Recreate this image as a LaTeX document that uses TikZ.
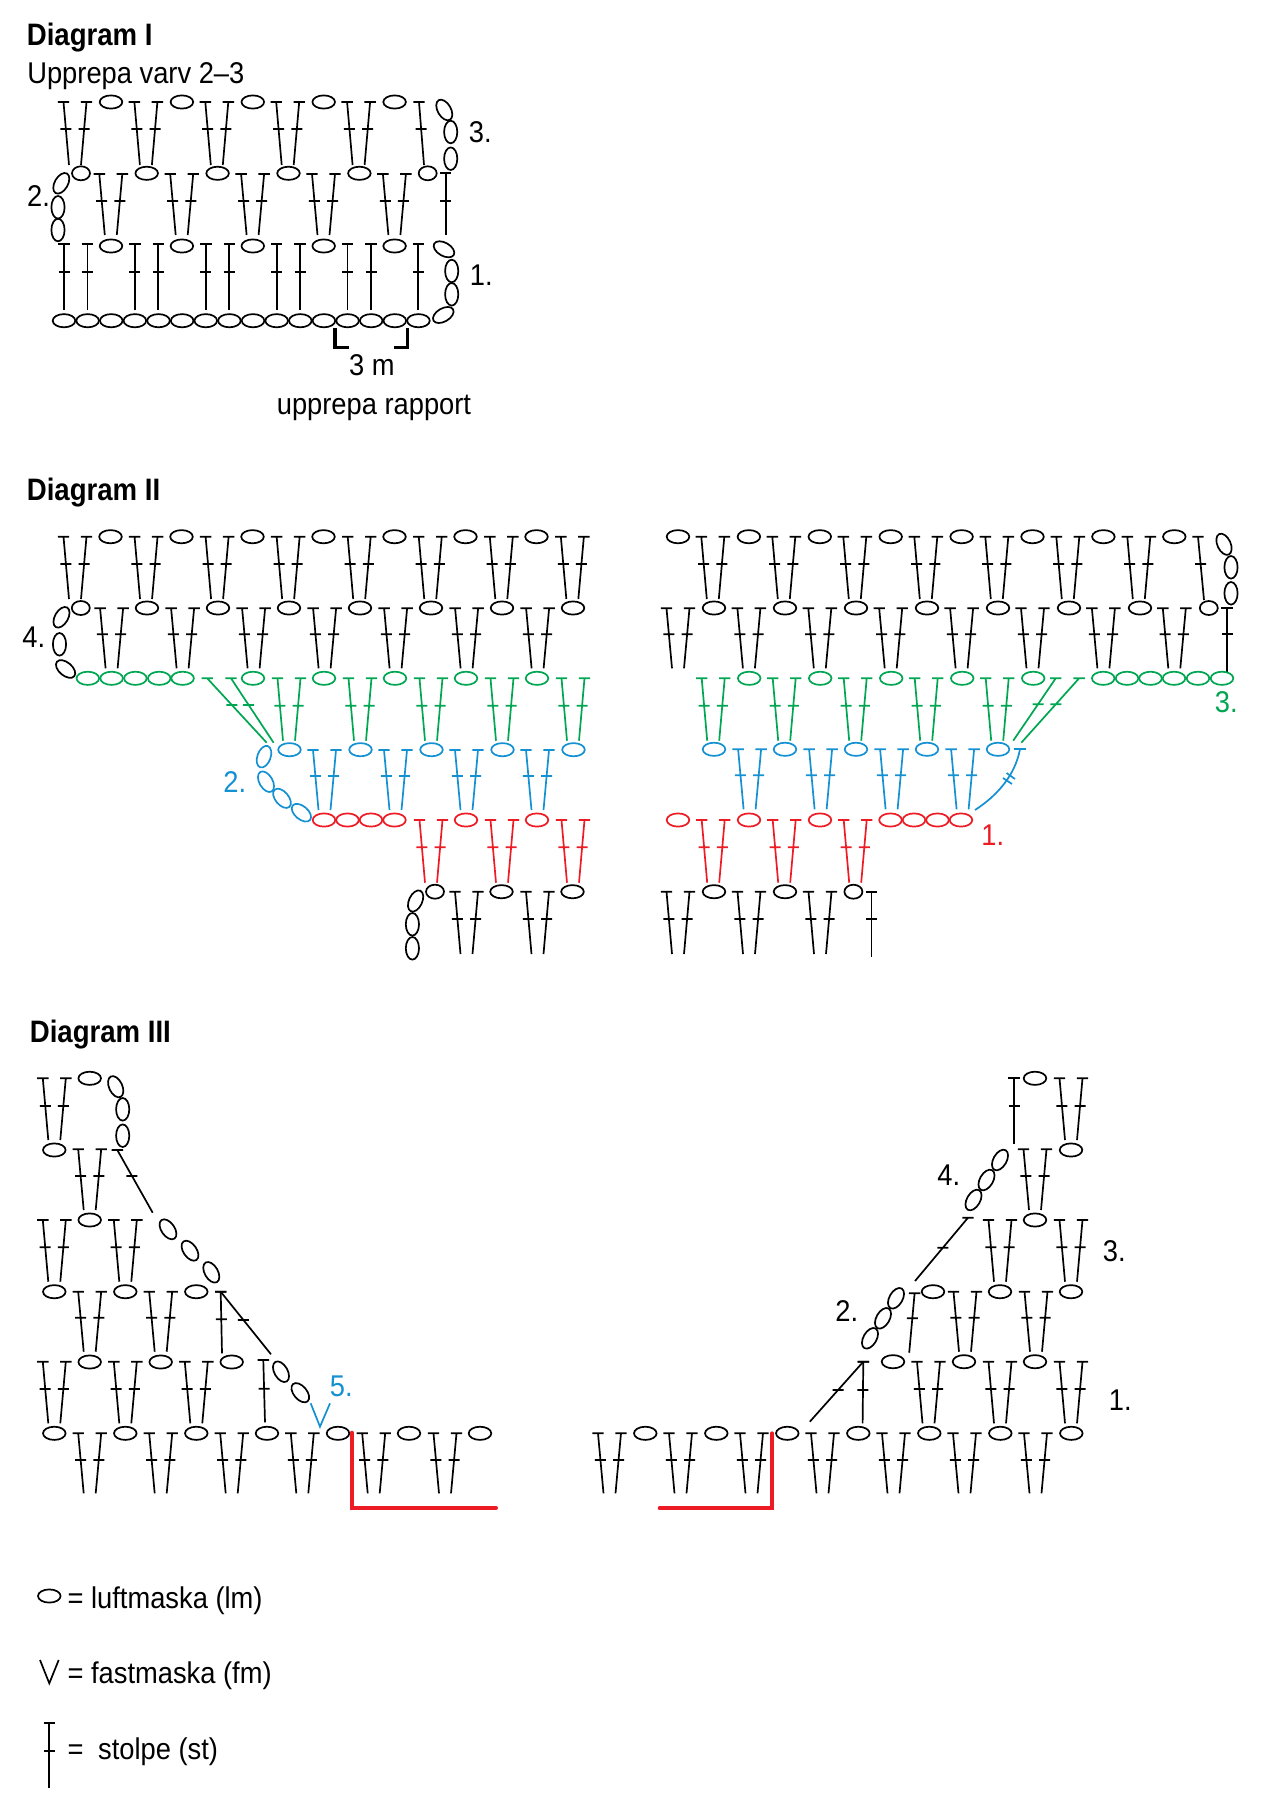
\documentclass[tikz,border=0pt]{standalone}
\usepackage{fontspec}
\setmainfont{Liberation Sans}[FakeStretch=0.91]
\newfontfamily\titlefont{Liberation Sans}[FakeStretch=0.89]
\usepackage{tikz}
\definecolor{StitchGreen}{RGB}{0,166,81}
\definecolor{StitchBlue}{RGB}{20,145,210}
\definecolor{StitchRed}{RGB}{237,28,36}
\newcommand{\stolpe}[5]{% top x, top y, foot x, foot y, bar y
  \pgfmathsetmacro{\barx}{#1+(#3-#1)*(#5-#2)/(#4-#2)}
  \draw (#1-5.7,#2) -- (#1+5.7,#2) (#1,#2) -- (#3,#4) (\barx-5.5,#5) -- (\barx+5.5,#5);
}
\newcommand{\stpair}[4]{% centre x, top y, foot y, bar y
  \pgfmathsetmacro{\pl}{#1-11.5}\pgfmathsetmacro{\pr}{#1+11.5}
  \pgfmathsetmacro{\fl}{#1-6}\pgfmathsetmacro{\fr}{#1+6}
  \stolpe{\pl}{#2}{\fl}{#3}{#4}\stolpe{\pr}{#2}{\fr}{#3}{#4}
}
\newcommand{\lm}[3]{\draw[rotate around={#3:(#1,#2)}] (#1,#2) ellipse [x radius=11.3, y radius=6.6];}
\newcommand{\lmsmall}[2]{\draw (#1,#2) ellipse [x radius=9, y radius=7];}

\begin{document}
\begin{tikzpicture}[
  x=1pt, y=-1pt, line width=1.7pt,
  title/.style={anchor=base west, inner sep=0pt, font=\fontsize{31}{34}\selectfont\titlefont\bfseries},
  lbl/.style={anchor=base west, inner sep=0pt, font=\fontsize{30}{33}\selectfont},
  lblmid/.style={anchor=base, inner sep=0pt, font=\fontsize{30}{33}\selectfont},
  bracket/.style={line width=3.4pt},
  redline/.style={line width=4pt, color=StitchRed, line cap=round, line join=miter}
]
\useasboundingbox (0,0) rectangle (1271,1815);

% Diagram I
\node[title] (titleA) at (26,45.5) {Diagram I};
\node[lbl] (subA) at (26.5,83.7) {Upprepa varv 2--3};
\foreach \i in {0,...,4} {
  \pgfmathsetmacro{\xa}{75+70.9*\i}
  \stpair{\xa}{102}{165}{129}
  \pgfmathsetmacro{\xb}{111+70.9*\i}
  \lm{\xb}{102}{0}
  \pgfmathsetmacro{\xc}{110.8+70.9*\i}
  \stpair{\xc}{174}{235}{201}
  \lm{\xb}{246}{0}
  \pgfmathsetmacro{\xe}{64+70.9*\i}
  \pgfmathsetmacro{\xf}{87.4+70.9*\i}
  \stolpe{\xe}{244.3}{\xe}{310}{271.7}
  \stolpe{\xf}{244.3}{\xf}{310}{271.7}
}
\foreach \i in {0,...,3} {
  \pgfmathsetmacro{\xd}{146.7+70.9*\i}
  \lm{\xd}{173.3}{0}
}
\stolpe{419}{102}{424}{165}{129}
\stolpe{445.7}{173.3}{445.7}{235}{201}
\stolpe{418.3}{244.3}{418.3}{310}{271.7}
\lmsmall{81}{173.3}
\lmsmall{427.7}{173.3}
\lm{444.3}{110}{-60}
\lm{450.7}{132}{90}
\lm{450.7}{158.7}{90}
\lm{61.3}{183.3}{60}
\lm{58}{207.3}{90}
\lm{58}{230}{90}
\lm{444}{249.3}{-30}
\lm{451.7}{271}{90}
\lm{451.7}{294.3}{90}
\lm{443.3}{315}{30}
% Foundation chain
\foreach \i in {0,...,15} {
  \pgfmathsetmacro{\xa}{64+23.63*\i}
  \lm{\xa}{320.7}{0}
}
\draw[bracket] (335,328) -- (335,347.5) -- (349,347.5);
\draw[bracket] (407.3,328) -- (407.3,347.5) -- (394,347.5);
\node[lbl] (numA2) at (26.3,206.7) {2.};
\node[lbl] (numA3) at (468,142.7) {3.};
\node[lbl] (numA1) at (469,285) {1.};
\node[lblmid] (countA) at (372,375.5) {3 m};
\node[lblmid] (rapport) at (374,414.2) {upprepa rapport};

% Diagram II, left part
\node[title] (titleB) at (26,500.5) {Diagram II};
\foreach \i in {0,...,7} {
  \pgfmathsetmacro{\xa}{75+71.05*\i}
  \stpair{\xa}{536.7}{599}{564}
}
\foreach \i in {0,...,6} {
  \pgfmathsetmacro{\xa}{110.5+71*\i}
  \lm{\xa}{536.7}{0}
  \pgfmathsetmacro{\xb}{147+71*\i}
  \lm{\xb}{608}{0}
  \pgfmathsetmacro{\xc}{111.6+71*\i}
  \stpair{\xc}{608.3}{668.3}{634.3}
}
\lmsmall{80.8}{608}
\lm{61.5}{617.3}{60}
\lm{59.5}{644.3}{90}
\lm{65.6}{669}{-40}
\node[lbl] (numB4) at (21.6,647.7) {4.};
\begin{scope}[color=StitchGreen]
  \foreach \xa in {87.8,111.6,135.4,159.2,182.6} {\lm{\xa}{678.3}{0}}
  \foreach \i in {0,...,4} {
    \pgfmathsetmacro{\xa}{253+71*\i}
    \lm{\xa}{678.3}{0}
    \pgfmathsetmacro{\xb}{289+71*\i}
    \stpair{\xb}{678.3}{740.7}{705.7}
  }
  \stolpe{207.2}{678.3}{266.7}{742.7}{705}
  \stolpe{231}{678.3}{273.6}{742.7}{705}
\end{scope}
\begin{scope}[color=StitchBlue]
  \foreach \i in {0,...,4} {
    \pgfmathsetmacro{\xa}{289.5+71*\i}
    \lm{\xa}{749.7}{0}
  }
  \foreach \i in {0,...,3} {
    \pgfmathsetmacro{\xa}{324.5+71*\i}
    \stpair{\xa}{750}{810}{776}
  }
  \lm{264}{756.7}{70}
  \lm{266}{781.7}{-60}
  \lm{282}{798.3}{-50}
  \lm{301.4}{812.7}{-40}
  \node[lbl, text=StitchBlue] (numB2) at (222.5,792.7) {2.};
\end{scope}
\begin{scope}[color=StitchRed]
  \foreach \xa in {324,347.5,371,394.5,466,537} {\lm{\xa}{820}{0}}
  \foreach \xa in {431,502,573} {\stpair{\xa}{820}{882.7}{847.3}}
\end{scope}
\lmsmall{435}{891.7}
\lm{501.5}{891.7}{0}
\lm{572.5}{891.7}{0}
\stpair{466.5}{891.7}{954}{919}
\stpair{537.5}{891.7}{954}{919}
\lm{415.6}{901}{65}
\lm{412.4}{924.3}{90}
\lm{412.4}{948.3}{90}

% Diagram II, right part
\foreach \i in {0,...,7} {
  \pgfmathsetmacro{\xa}{678+70.9*\i}
  \lm{\xa}{536.7}{0}
  \stpair{\xa}{608.3}{668.3}{634.3}
}
\foreach \i in {0,...,6} {
  \pgfmathsetmacro{\xa}{712.8+71*\i}
  \stpair{\xa}{536.7}{599}{564}
  \pgfmathsetmacro{\xb}{714+71*\i}
  \lm{\xb}{608}{0}
}
\stolpe{1198}{536.7}{1204}{600}{564}
\stolpe{1227}{608}{1227}{671.7}{634.3}
\lmsmall{1208.8}{608}
\lm{1224}{544.3}{-65}
\lm{1231}{567.3}{90}
\lm{1231}{593.3}{90}
\begin{scope}[color=StitchGreen]
  \foreach \i in {0,...,4} {
    \pgfmathsetmacro{\xa}{749.2+71*\i}
    \lm{\xa}{678.3}{0}
    \pgfmathsetmacro{\xb}{713.2+71*\i}
    \stpair{\xb}{678.3}{740.7}{705.7}
  }
  \foreach \xa in {1103.2,1127,1150.5,1174,1198,1222} {\lm{\xa}{678.3}{0}}
  \stolpe{1055.7}{678.3}{1013.2}{740.7}{704.3}
  \stolpe{1079.1}{678.3}{1021.3}{742.7}{704.3}
  \node[lbl, text=StitchGreen] (numB3) at (1214,712.7) {3.};
\end{scope}
\begin{scope}[color=StitchBlue]
  \foreach \i in {0,...,4} {
    \pgfmathsetmacro{\xa}{714+71*\i}
    \lm{\xa}{749.3}{0}
  }
  \foreach \i in {0,...,3} {
    \pgfmathsetmacro{\xa}{749.6+71*\i}
    \stpair{\xa}{749.3}{809.3}{775.3}
  }
  \draw (1013.5,749.3) -- (1026,749.3);
  \draw (1020,749.3) .. controls (1015,775) and (998,795) .. (975,810);
  \draw (1003,778) -- (1012,784) (1006.5,773) -- (1015,779);
\end{scope}
\begin{scope}[color=StitchRed]
  \foreach \xa in {678,749,820,890.5,914,937.5,961} {\lm{\xa}{820}{0}}
  \foreach \xa in {713.2,784.2,855.2} {\stpair{\xa}{820}{882.7}{847.3}}
  \node[lbl, text=StitchRed] (numB1) at (980.5,845) {1.};
\end{scope}
\lm{714}{891.7}{0}
\lm{785}{891.7}{0}
\lmsmall{853.4}{891.7}
\foreach \xa in {678,749,820} {\stpair{\xa}{891.7}{954}{919}}
\stolpe{871.6}{891.7}{871.6}{956.7}{919}

% Diagram III, left part
\node[title] (titleC) at (29,1042.5) {Diagram III};
\foreach \xa in {54.3} {\stpair{\xa}{1078.3}{1140}{1106}}
\lm{89.7}{1078.3}{0}
\lm{115.7}{1086.7}{-65}
\lm{122.7}{1109.3}{90}
\lm{122.7}{1135.7}{90}
\lm{54.3}{1150}{0}
\stpair{89.7}{1149.3}{1210}{1176}
\stolpe{117.3}{1150}{152.7}{1212.7}{1176}
\lm{89.7}{1220}{0}
\foreach \xa in {54.3,125.3} {\stpair{\xa}{1220}{1281.7}{1247.3}}
\lm{168}{1229.3}{-55}
\lm{190}{1250.7}{-55}
\lm{211.3}{1272.3}{-60}
\foreach \xa in {54.3,125.3,196.3} {\lm{\xa}{1291.7}{0}}
\foreach \xa in {89.7,160.7} {\stpair{\xa}{1291.7}{1351.7}{1317.7}}
\stolpe{220.7}{1291.7}{222}{1353.3}{1319.3}
\stolpe{220.7}{1291.7}{271}{1354.3}{1320}
\foreach \xa in {89.7,160.7,231.7} {\lm{\xa}{1362}{0}}
\foreach \xa in {54.3,125.3,196.3} {\stpair{\xa}{1361.7}{1423.3}{1389}}
\stolpe{263.3}{1360}{265}{1422.3}{1388.7}
\lm{281}{1371.7}{-60}
\lm{300.3}{1392.7}{-50}
\begin{scope}[color=StitchBlue]
  \draw (310.7,1403.3) -- (320,1426.7) -- (330,1403.3);
  \node[lbl, text=StitchBlue] (numC5) at (329,1396) {5.};
\end{scope}
\foreach \xa in {54.3,125.3,196.3,267,338,409,480} {\lm{\xa}{1433.3}{0}}
\foreach \xa in {89.7,160.7,231.7,302.3,373.7,445} {\stpair{\xa}{1433.3}{1493.3}{1460}}
\draw[redline] (351.7,1432.7) -- (351.7,1507.7) -- (496,1507.7);

% Diagram III, right part
\foreach \i in {0,...,6} {
  \pgfmathsetmacro{\xa}{645.3+71*\i}
  \lm{\xa}{1433.3}{0}
  \pgfmathsetmacro{\xb}{609.5+71*\i}
  \stpair{\xb}{1433.3}{1493.3}{1460}
}
\draw[redline] (772,1433.3) -- (772,1508.3) -- (659.7,1508.3);
\foreach \xa in {893,964,1035} {\lm{\xa}{1361.7}{0}}
\foreach \xa in {928.5,1000,1071} {\stpair{\xa}{1361.7}{1423.3}{1389}}
\stolpe{863.3}{1361.7}{862.6}{1423.3}{1390}
\stolpe{863.3}{1361.7}{809.8}{1421.7}{1390}
\lm{870}{1338.3}{60}
\lm{883}{1318.3}{60}
\lm{896}{1298.3}{60}
\node[lbl] (numC2) at (834.5,1321.7) {2.};
\lm{933}{1291.7}{0}
\foreach \xa in {1000,1071} {\lm{\xa}{1291.7}{0}}
\foreach \xa in {965,1036} {\stpair{\xa}{1291.7}{1351.7}{1317.7}}
\stolpe{914.6}{1293.3}{909.2}{1352.7}{1318.3}
\stolpe{968}{1217.7}{915}{1281}{1247.7}
\lm{1035}{1220}{0}
\foreach \xa in {1000,1071} {\stpair{\xa}{1220}{1281.7}{1247.3}}
\lm{973.5}{1200}{60}
\lm{986.5}{1180}{60}
\lm{1000}{1160}{60}
\node[lbl] (numC4) at (936.5,1185) {4.};
\node[lbl] (numC3) at (1102,1261.7) {3.};
\node[lbl] (numC1) at (1108,1410.7) {1.};
\lm{1071}{1150}{0}
\stpair{1035}{1149.3}{1210}{1176}
\lm{1035}{1078.3}{0}
\stpair{1071}{1078.3}{1140}{1106}
\stolpe{1014}{1078.3}{1014}{1144.3}{1106}

% Legend
\lm{49.3}{1596}{0}
\node[lbl] (keyLm) at (66.8,1608.3) {= luftmaska (lm)};
\draw (40,1660) -- (49.3,1683.3) -- (58.7,1660);
\node[lbl] (keyFm) at (66.8,1683.3) {= fastmaska (fm)};
\stolpe{49.3}{1722.7}{49.3}{1788.3}{1750.7}
\node[lbl] (keySt) at (66.8,1759.3) {=};
\node[lbl] (keyStb) at (97.3,1759.3) {stolpe (st)};
\end{tikzpicture}
\end{document}
